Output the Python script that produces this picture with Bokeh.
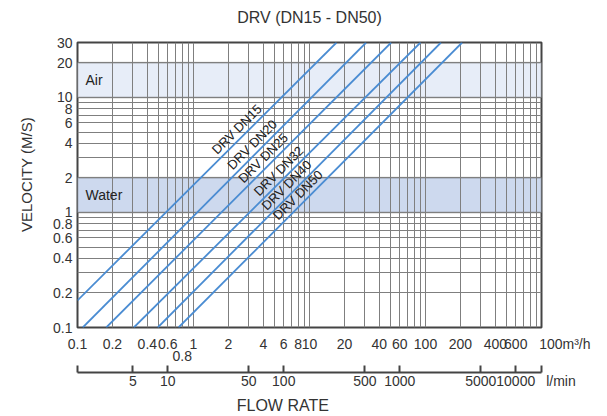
import math
from bokeh.plotting import figure
from bokeh.models import (LogAxis, Range1d, LogScale, FixedTicker, BoxAnnotation, Label)
from bokeh.core.properties import value
from bokeh.embed import file_html
from bokeh.resources import INLINE

# ---- data ----
chart_title = "DRV (DN15 - DN50)"
series_names = ["DRV DN15", "DRV DN20", "DRV DN25", "DRV DN32", "DRV DN40", "DRV DN50"]
flow_start = [0.1, 0.111, 0.177, 0.306, 0.492, 0.743]     # m3/h
vel_start = [0.172, 0.1, 0.1, 0.1, 0.1, 0.1]              # m/s
flow_end = [17.1, 30.8, 50.6, 90.6, 136.0, 207.0]         # m3/h
vel_end = [30, 30, 30, 30, 30, 30]                        # m/s

band_names = ["Air", "Water"]
band_low = [10, 1]
band_high = [20, 2]

x_tick_values = [0.1, 0.2, 0.4, 0.6, 1, 2, 4, 6, 8, 10, 20, 40, 60, 100, 200, 400, 600, 1000]
x_tick_labels = ["0.1", "0.2", "0.4", "0.6", "1", "2", "4", "6", "8", "10", "20", "40", "60",
                 "100", "200", "400", "600", "100m³/h"]
x_stagger_values = [0.8]
x_stagger_labels = ["0.8"]

lmin_tick_values = [5, 10, 50, 100, 500, 1000, 5000, 10000]
lmin_tick_labels = ["5", "10", "50", "100", "500", "1000", "5000", "10000"]
lmin_unit_label = "l/min"

y_tick_values = [0.1, 0.2, 0.4, 0.6, 0.8, 1, 2, 4, 6, 8, 10, 20, 30]
y_tick_labels = ["0.1", "0.2", "0.4", "0.6", "0.8", "1", "2", "4", "6", "8", "10", "20", "30"]

# ---- layout / style ----
FONT = "Liberation Sans"
TXT = "#333333"
GRID = "#7f7f7f"
NB = "\u00a0"
label_vel = [4.66, 3.43, 2.62, 2.02, 1.52, 1.25]   # where each series label sits along its line

x_lo, x_hi = 0.1, 1000
y_lo, y_hi = 0.1, 30
m3h_to_lmin = 1000.0 / 60.0

p = figure(width=607, height=416, x_axis_type="log", y_axis_type="log",
           x_range=Range1d(x_lo, x_hi), y_range=Range1d(y_lo, y_hi),
           output_backend="svg", toolbar_location=None,
           min_border_left=77, min_border_right=66, min_border_top=42, min_border_bottom=87)

ax = p.below[0]      # main x axis (m3/h)
ay = p.left[0]       # y axis

p.outline_line_color = "#444444"
p.outline_line_width = 2
p.background_fill_color = "white"
p.border_fill_color = "white"

# grids
gx = [m * 10.0 ** e for e in range(-1, 3) for m in range(1, 10)] + [1000.0]
gy = [m * 10.0 ** e for e in (-1, 0) for m in range(1, 10)] + [10.0, 20.0]
p.xgrid.ticker = FixedTicker(ticks=gx)
p.ygrid.ticker = FixedTicker(ticks=gy)
for g in (p.xgrid, p.ygrid):
    g.grid_line_color = GRID
    g.grid_line_width = 1
    g.minor_grid_line_color = None

# bands
band_fill = ["#e7edf8", "#cdd9ee"]
for nm, lo, hi, fc in zip(band_names, band_low, band_high, band_fill):
    p.add_layout(BoxAnnotation(bottom=lo, top=hi, fill_color=fc, fill_alpha=1.0,
                               line_color="#555555", line_width=2, level="image"))
    p.add_layout(Label(x=x_lo, y=math.sqrt(lo * hi), x_offset=8, text=nm,
                       text_baseline="middle", text_align="left",
                       text_font=FONT, text_font_size="14px", text_color="#222222"))


def style_plain_axis(a, size="14px", standoff=9):
    a.major_tick_out = 0
    a.major_tick_in = 0
    a.minor_tick_out = 0
    a.minor_tick_in = 0
    a.axis_line_color = None
    a.major_label_standoff = standoff
    a.major_label_text_font = FONT
    a.major_label_text_font_size = size
    a.major_label_text_color = TXT


# main x axis (m3/h)
ax.ticker = FixedTicker(ticks=x_tick_values)
lab = list(x_tick_labels)
lab[-1] = NB * 12 + lab[-1]          # unit text starts just right of its gridline
ax.major_label_overrides = dict(zip(x_tick_values, lab))
style_plain_axis(ax, standoff=8)

# title carried by a tick-less axis above the frame
ax_t = LogAxis(ticker=FixedTicker(ticks=[]))
style_plain_axis(ax_t, standoff=0)
ax_t.axis_label = chart_title
ax_t.axis_label_text_font = FONT
ax_t.axis_label_text_font_size = "16px"
ax_t.axis_label_text_font_style = "normal"
ax_t.axis_label_text_color = TXT
ax_t.axis_label_standoff = 17
p.add_layout(ax_t, "above")

# staggered x tick label (0.8) on a row of its own
ax_s = LogAxis(ticker=FixedTicker(ticks=x_stagger_values),
               major_label_overrides=dict(zip(x_stagger_values, x_stagger_labels)))
style_plain_axis(ax_s, standoff=-4)
ax_s.axis_label = " "
ax_s.axis_label_standoff = 0
ax_s.axis_label_text_font_size = "6px"
p.add_layout(ax_s, "below")

# y axis
ay.ticker = FixedTicker(ticks=y_tick_values)
ay.major_label_overrides = dict(zip(y_tick_values, y_tick_labels))
style_plain_axis(ay, standoff=5)
ay.axis_label = NB * 5 + "VELOCITY (M/S)"
ay.axis_label_text_font = FONT
ay.axis_label_text_font_size = "15px"
ay.axis_label_text_font_style = "normal"
ay.axis_label_text_color = TXT
ay.axis_label_standoff = 15

# second x axis (l/min)
l_lo, l_hi = x_lo * m3h_to_lmin, x_hi * m3h_to_lmin
p.extra_x_ranges = {"lmin": Range1d(l_lo, l_hi)}
p.extra_x_scales = {"lmin": LogScale()}
overrides = dict(zip(lmin_tick_values, lmin_tick_labels))
overrides[l_lo] = ""
overrides[l_hi] = NB * 10 + lmin_unit_label
ax2 = LogAxis(x_range_name="lmin", ticker=FixedTicker(ticks=[l_lo] + lmin_tick_values + [l_hi]),
              major_label_overrides=overrides)
ax2.major_tick_in = 7
ax2.major_tick_out = 0
ax2.minor_tick_in = 0
ax2.minor_tick_out = 0
ax2.major_tick_line_color = "#444444"
ax2.major_tick_line_width = 2
ax2.axis_line_color = "#444444"
ax2.axis_line_width = 2
ax2.major_label_standoff = 0
ax2.major_label_text_font = FONT
ax2.major_label_text_font_size = "14px"
ax2.major_label_text_color = TXT
ax2.axis_label = "FLOW RATE" + NB * 12
ax2.axis_label_text_font = FONT
ax2.axis_label_text_font_size = "16px"
ax2.axis_label_text_font_style = "normal"
ax2.axis_label_text_color = TXT
ax2.axis_label_standoff = 5
p.add_layout(ax2, "below")

# series lines
xs = [[a, b] for a, b in zip(flow_start, flow_end)]
ys = [[a, b] for a, b in zip(vel_start, vel_end)]
p.multi_line(xs=xs, ys=ys, line_color="#4a8cd2", line_width=1.8)

# series labels placed along their lines
lx = []
for q1, v1, q2, v2, lv in zip(flow_start, vel_start, flow_end, vel_end, label_vel):
    t = (math.log10(lv) - math.log10(v1)) / (math.log10(v2) - math.log10(v1))
    lx.append(10 ** (math.log10(q1) + t * (math.log10(q2) - math.log10(q1))))
p.text(x=lx, y=label_vel, text=series_names, angle=45, angle_units="deg",
       text_align="center", text_baseline="bottom", x_offset=-1, y_offset=-1,
       text_font=value(FONT), text_font_size="13px", text_color="#222222")

open("out.html", "w").write(file_html(p, INLINE))
